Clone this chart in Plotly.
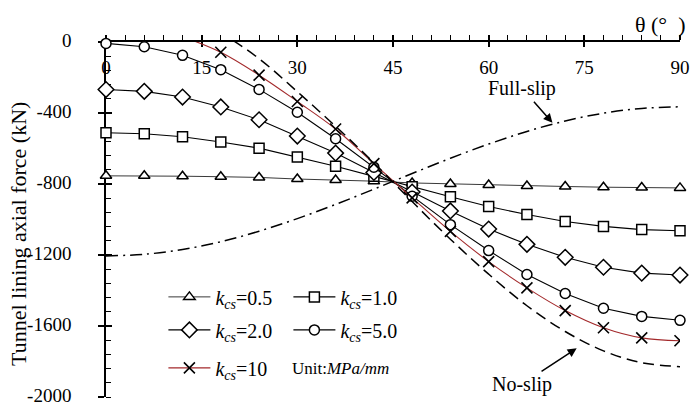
import plotly.graph_objects as go

# Angle around the lining (degrees)
theta = [0, 6, 12, 18, 24, 30, 36, 42, 48, 54, 60, 66, 72, 78, 84, 90]

# Axial force (kN) for each interface stiffness k_cs (MPa/mm)
n_k05 = [-754, -754, -756, -759, -763, -772, -777, -784, -794, -800, -806, -811, -814, -818, -820, -822]
n_k1 = [-511, -517, -534, -563, -598, -648, -700, -757, -816, -872, -927, -972, -1011, -1039, -1057, -1063]
n_k2 = [-268, -278, -310, -366, -438, -530, -626, -735, -845, -952, -1054, -1140, -1213, -1269, -1302, -1313]
n_k5 = [-8, -27, -75, -156, -267, -396, -545, -705, -869, -1029, -1175, -1310, -1417, -1500, -1546, -1568]

theta_k10 = [12, 18, 24, 30, 36, 42, 48, 54, 60, 66, 72, 78, 84, 90]
n_k10 = [30, -58, -187, -335, -490, -685, -878, -1067, -1237, -1385, -1513, -1610, -1667, -1683]

# Limiting cases
n_noslip = [250, 227, 160, 51, -94, -280, -475, -681, -899, -1111, -1308, -1486, -1631, -1740, -1807, -1829]
n_fullslip = [-1205, -1196, -1169, -1125, -1066, -995, -915, -829, -741, -655, -575, -504, -445, -401, -374, -365]

y_ticks = [0, -400, -800, -1200, -1600, -2000]
y_tick_text = ["0", "-400", "-800", "-1200", "-1600", "-2000"]
x_ticks = [0, 15, 30, 45, 60, 75, 90]

FONT = "Liberation Serif, Times New Roman, serif"
RED = "#a3292b"


def kcs(v):
    return "<i>k</i><sub><i>cs</i></sub>=" + v


fig = go.Figure()


def open_marker(symbol, size):
    return dict(symbol=symbol, size=size, color="white",
                line=dict(color="black", width=1.5))


fig.add_trace(go.Scatter(
    x=theta, y=n_k05, mode="lines+markers", name=kcs("0.5"),
    line=dict(color="#222", width=0.9), marker=open_marker("triangle-up", 10),
    cliponaxis=False, legend="legend"))
fig.add_trace(go.Scatter(
    x=theta, y=n_k1, mode="lines+markers", name=kcs("1.0"),
    line=dict(color="black", width=1.1), marker=open_marker("square", 10),
    cliponaxis=False, legend="legend"))
fig.add_trace(go.Scatter(
    x=theta, y=n_k2, mode="lines+markers", name=kcs("2.0"),
    line=dict(color="black", width=1.1), marker=open_marker("diamond", 12),
    cliponaxis=False, legend="legend2"))
fig.add_trace(go.Scatter(
    x=theta, y=n_k5, mode="lines+markers", name=kcs("5.0"),
    line=dict(color="black", width=1.1), marker=open_marker("circle", 10),
    cliponaxis=False, legend="legend2"))
fig.add_trace(go.Scatter(
    x=theta_k10, y=n_k10, mode="lines+markers", name=kcs("10"),
    line=dict(color=RED, width=1.1, shape="spline"),
    marker=dict(symbol="x-thin", size=11, line=dict(color="black", width=1.6)),
    cliponaxis=True, legend="legend3"))
fig.add_trace(go.Scatter(
    x=theta, y=n_noslip, mode="lines", name="No-slip", showlegend=False,
    line=dict(color="black", width=1.5, dash="11px,6px", shape="spline")))
fig.add_trace(go.Scatter(
    x=theta, y=n_fullslip, mode="lines", name="Full-slip", showlegend=False,
    xaxis="x2", yaxis="y2",
    line=dict(color="black", width=1.5, dash="12px,5px,2px,5px", shape="spline")))

axis_font = dict(family=FONT, size=19, color="black")

fig.update_layout(
    width=690, height=406,
    margin=dict(l=106, r=10, t=42, b=9, autoexpand=False),
    paper_bgcolor="white", plot_bgcolor="white",
    font=dict(family=FONT, color="black"),
    xaxis=dict(
        range=[0, 90], side="top", tickvals=x_ticks, ticks="outside", ticklen=5,
        tickwidth=1.5, tickcolor="black", showline=True, linecolor="black",
        linewidth=1.5, showgrid=False, zeroline=False, tickfont=axis_font,
        ticklabelposition="inside", ticklabelstandoff=20,
        ticklabeloverflow="allow", layer="below traces", automargin=False,
        minor=dict(dtick=3, ticks="outside", ticklen=5, tickwidth=1.2,
                   tickcolor="black", showgrid=False),
    ),
    yaxis=dict(
        range=[-2000, 0], tickvals=y_ticks, ticktext=y_tick_text, ticks="outside",
        ticklen=6, tickwidth=1.5, tickcolor="black", showline=True,
        linecolor="black", linewidth=1.5, showgrid=False, zeroline=False,
        tickfont=axis_font, ticklabelstandoff=23, ticklabeloverflow="allow",
        ticklabelshift=-2, layer="below traces", automargin=False,
        minor=dict(dtick=80, ticks="inside", ticklen=5, tickwidth=1.2,
                   tickcolor="black", showgrid=False),
    ),
    # duplicate axes give the major ticks their inner half
    xaxis2=dict(range=[0, 90], overlaying="x", anchor="y2", side="top",
                tickvals=x_ticks, ticks="inside", ticklen=5, tickwidth=1.5,
                tickcolor="black", showticklabels=False, showline=False,
                showgrid=False, zeroline=False, layer="below traces",
                automargin=False),
    yaxis2=dict(range=[-2000, 0], overlaying="y", anchor="x2", side="left",
                tickvals=y_ticks, ticks="inside", ticklen=6, tickwidth=1.5,
                tickcolor="black", showticklabels=False, showline=False,
                showgrid=False, zeroline=False, layer="below traces",
                automargin=False),
)

legend_common = dict(orientation="h", xanchor="left", yanchor="middle",
                     bgcolor="rgba(0,0,0,0)", borderwidth=0,
                     font=dict(family=FONT, size=20, color="black"),
                     entrywidth=68, entrywidthmode="pixels", itemwidth=42,
                     traceorder="normal", itemclick=False)
fig.update_layout(
    legend=dict(x=0.1, y=0.282, **legend_common),
    legend2=dict(x=0.1, y=0.189, **legend_common),
    legend3=dict(x=0.1, y=0.082, **legend_common),
)

fig.add_annotation(
    x=(19 - 106) / 574, y=(397 - 234) / 355, xref="paper", yref="paper",
    text="Tunnel lining axial force (kN)", textangle=-90, showarrow=False,
    xanchor="center", yanchor="middle",
    font=dict(family=FONT, size=22, color="black"))
fig.add_annotation(
    x=70, y=-455, xref="x", yref="y", text="Full-slip", showarrow=True,
    ax=-30, ay=-34, arrowhead=2, arrowsize=1.2, arrowwidth=1.5,
    arrowcolor="black", font=dict(family=FONT, size=20, color="black"))
fig.add_annotation(
    x=73.8, y=-1726, xref="x", yref="y", text="No-slip", showarrow=True,
    ax=-55, ay=36, arrowhead=2, arrowsize=1.2, arrowwidth=1.5,
    arrowcolor="black", font=dict(family=FONT, size=20, color="black"))
fig.add_annotation(
    x=(290 - 106) / 574, y=(397 - 368) / 355, xref="paper", yref="paper",
    text="Unit:<i>MPa/mm</i>", showarrow=False, xanchor="left", yanchor="middle",
    font=dict(family=FONT, size=17, color="black"))
fig.add_annotation(
    x=1.0, y=1.0, xref="paper", yref="paper", yshift=18, xshift=8,
    text="θ (°  )", showarrow=False, xanchor="right", yanchor="middle",
    font=dict(family=FONT, size=22, color="black"))

fig.write_html("out.html")
